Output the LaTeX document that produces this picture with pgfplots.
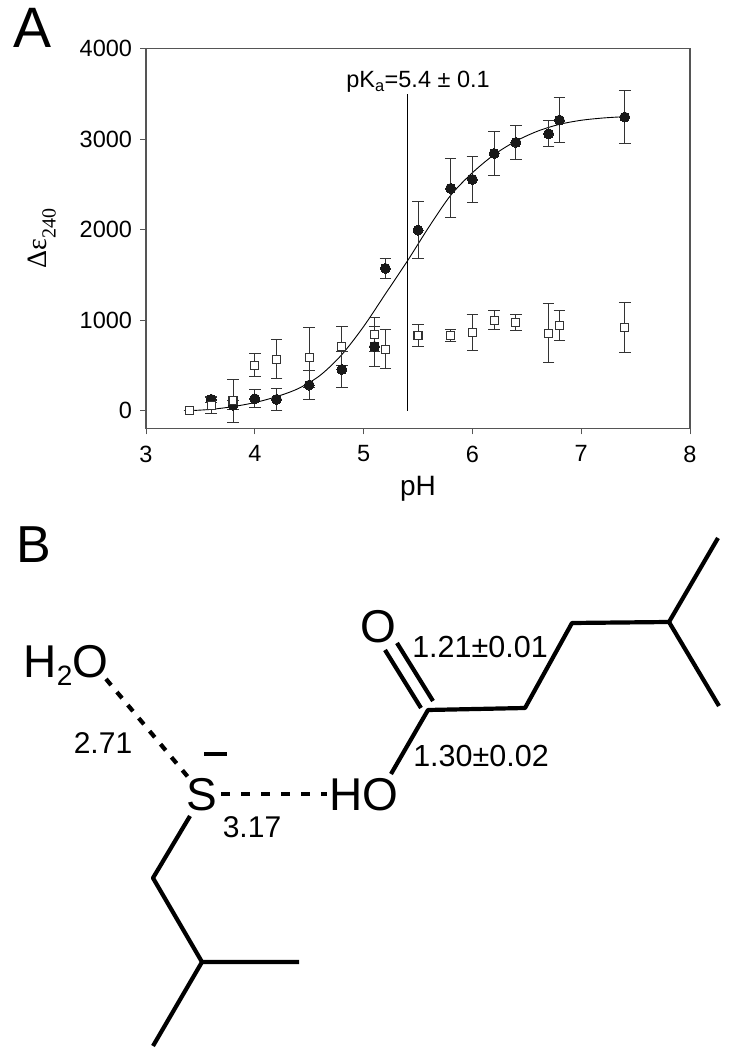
\documentclass[border=0pt]{standalone}
\usepackage{fontspec}
\setmainfont{Liberation Sans}
\newfontfamily\serifgr{Liberation Serif}
\usepackage{pgfplots}
\pgfplotsset{compat=1.18}
\newcommand{\fs}[1]{\fontsize{#1}{#1}\selectfont}
\definecolor{frame}{HTML}{555555}
\definecolor{bar}{HTML}{333333}
\begin{document}
\begin{tikzpicture}[x=1pt,y=1pt]
\path[use as bounding box] (0,0) rectangle (735,1050);
\begin{axis}[
  at={(146pt,621.2pt)},anchor=south west,
  scale only axis,width=544pt,height=380pt,
  xmin=3,xmax=8,ymin=-200,ymax=4000,
  xtick={3,4,5,6,7,8},ytick={0,1000,2000,3000,4000},
  axis line style={color=frame,line width=1.4pt},
  tick style={color=frame,line width=1pt},
  major tick length=5.5pt,
  tick align=outside,xtick pos=bottom,ytick pos=left,
  tick label style={font=\fs{23.5}},
  yticklabel style={xshift=-5pt},
  xticklabel style={yshift=-8pt},
  /pgf/number format/assume math mode=true,
  /pgf/number format/1000 sep={},
  xlabel={pH},xlabel style={font=\fs{28},at={(axis description cs:0.5,-0.158)},anchor=center},
  ylabel={\serifgr\fs{28}Δε\raisebox{-9pt}{\fs{20}240}},
  ylabel style={at={(axis description cs:-0.191,0.5)},anchor=center},
  clip=false,
]
\addplot[black,line width=0.9pt,smooth,no marks] coordinates {
 (3.4,0)(3.6,15)(3.8,45)(4.0,90)(4.2,155)(4.4,245)(4.6,390)(4.8,620)(5.0,930)(5.2,1290)(5.4,1650)(5.6,2030)(5.8,2380)(6.0,2630)(6.2,2830)(6.4,2980)(6.6,3090)(6.8,3165)(7.0,3210)(7.2,3235)(7.4,3250)};
\addplot[black,line width=0.9pt,no marks] coordinates {(5.4,0)(5.4,3505)};
\addplot[only marks,mark=*,mark size=5pt,mark options={fill=black!90,draw=black!90,line width=0pt},
  error bars/.cd,y dir=both,y explicit,error bar style={color=bar,line width=1pt},
  error mark options={rotate=90,mark size=5.8pt,color=bar,line width=1pt}]
 coordinates {
 (3.6,125)+-(0,30)
 (3.8,60)+-(0,50)
 (4.0,132)+-(0,100)
 (4.2,125)+-(0,118)
 (4.5,283)+-(0,160)
 (4.8,456)+-(0,200)
 (5.1,710)+-(0,226)
 (5.2,1573)+-(0,113)
 (5.5,1996)+-(0,315)
 (5.8,2457)+-(0,326)
 (6.0,2556)+-(0,258)
 (6.2,2843)+-(0,240)
 (6.4,2965)+-(0,184)
 (6.7,3061)+-(0,144)
 (6.8,3212)+-(0,249)
 (7.4,3245)+-(0,297)};
\addplot[only marks,mark=square*,mark size=4pt,mark options={fill=white,draw=bar,line width=1.1pt},
  error bars/.cd,y dir=both,y explicit,error bar style={color=bar,line width=1pt},
  error mark options={rotate=90,mark size=5.8pt,color=bar,line width=1pt}]
 coordinates {
 (3.4,0)+-(0,0)
 (3.6,62)+-(0,88)
 (3.8,110)+-(0,240)
 (4.0,504)+-(0,127)
 (4.2,570)+-(0,212)
 (4.5,592)+-(0,331)
 (4.8,713)+-(0,213)
 (5.1,845)+-(0,190)
 (5.2,680)+-(0,218)
 (5.5,829)+-(0,122)
 (5.8,832)+-(0,66)
 (6.0,866)+-(0,200)
 (6.2,998)+-(0,105)
 (6.4,976)+-(0,87)
 (6.7,858)+-(0,326)
 (6.8,939)+-(0,168)
 (7.4,921)+-(0,274)};
\node[font=\fs{23.5}] at (axis cs:5.5,3632) {pK\textsubscript{a}=5.4 ± 0.1};
\end{axis}
\begin{scope}[x=1pt,y=-1pt,yshift=1050pt]
\node[font=\fs{57},anchor=base] at (33,48) {A};
\node[font=\fs{52},anchor=base] at (34,563) {B};
\begin{scope}[line width=4.2pt,line cap=butt,line join=round,black]
\draw (385,650)--(421,708);
\draw (397,643)--(433,701);
\draw (391,774)--(428,710)--(525,708)--(572,623)--(669,622)--(718,538);
\draw (669,622)--(719,706);
\draw (190,816)--(153,878)--(202,962)--(299,962);
\draw (202,962)--(153,1046);
\draw (204,754)--(227,754);
\draw[dash pattern=on 8pt off 9pt] (106,679)--(188,777);
\draw[dash pattern=on 9pt off 11pt] (221,794)--(327,794);
\end{scope}
\node[font=\fs{46},anchor=base] at (378,643) {O};
\node[font=\fs{46},anchor=base] at (363.5,811) {HO};
\node[font=\fs{46},anchor=base] at (202,811) {S};
\node[font=\fs{46},anchor=base] at (66,678) {H\raisebox{-8pt}{\fs{28}2}O};
\node[font=\fs{30},anchor=base] at (103,754) {2.71};
\node[font=\fs{30},anchor=base] at (252,838) {3.17};
\node[font=\fs{30.5},anchor=base] at (480,658) {1.21±0.01};
\node[font=\fs{30.5},anchor=base] at (481,767) {1.30±0.02};
\end{scope}
\end{tikzpicture}
\end{document}
